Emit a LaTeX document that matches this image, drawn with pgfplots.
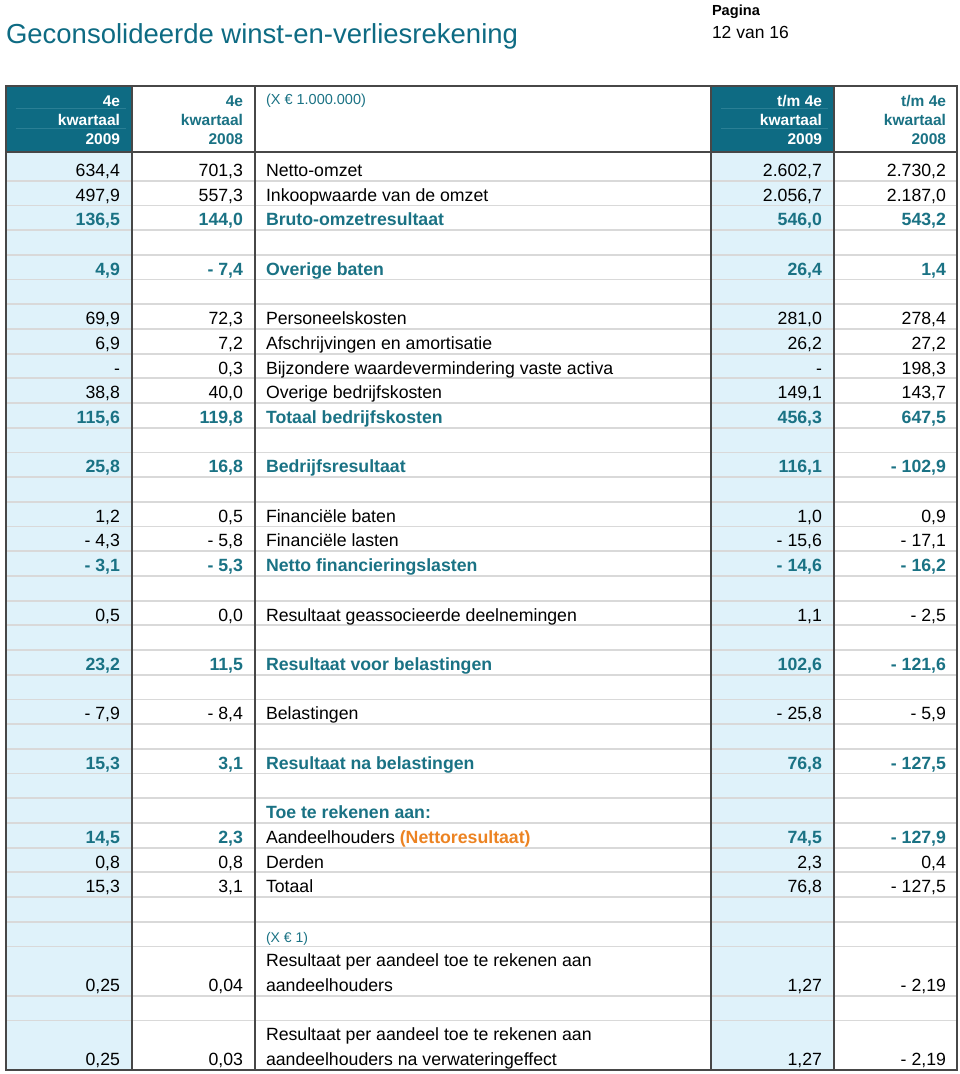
\documentclass[border=0pt]{standalone}
\usepackage{pgfplots}
\pgfplotsset{compat=1.18}
\usepackage{fontspec}
\setmainfont{Liberation Sans}
\definecolor{teal1}{HTML}{0E6B83}
\definecolor{teal2}{HTML}{2A7F95}
\definecolor{tealtxt}{HTML}{1A7284}
\definecolor{lblue}{HTML}{DFF2FA}
\definecolor{orng}{HTML}{EC8322}
\definecolor{gridg}{HTML}{D9D9D9}
\definecolor{bord}{HTML}{474747}
\newcommand\fs{\fontsize{17.7}{20}\selectfont}
\newcommand\hs{\fontsize{15.5}{18}\selectfont\bfseries}
\newcommand\by[1]{156+24.7*(#1+1)-4.3}
% row: k, col1, col2, label, col4, col5
\newcommand\R[6]{%
 \node[anchor=base east,font=\fs] at (axis cs:120,{\by{#1}}) {#2};
 \node[anchor=base east,font=\fs] at (axis cs:243,{\by{#1}}) {#3};
 \node[anchor=base west,font=\fs] at (axis cs:266,{\by{#1}}) {#4};
 \node[anchor=base east,font=\fs] at (axis cs:822,{\by{#1}}) {#5};
 \node[anchor=base east,font=\fs] at (axis cs:946,{\by{#1}}) {#6};
}
\newcommand\B[6]{%
 \node[anchor=base east,font=\fs\bfseries,text=tealtxt] at (axis cs:120,{\by{#1}}) {#2};
 \node[anchor=base east,font=\fs\bfseries,text=tealtxt] at (axis cs:243,{\by{#1}}) {#3};
 \node[anchor=base west,font=\fs\bfseries,text=tealtxt] at (axis cs:266,{\by{#1}}) {#4};
 \node[anchor=base east,font=\fs\bfseries,text=tealtxt] at (axis cs:822,{\by{#1}}) {#5};
 \node[anchor=base east,font=\fs\bfseries,text=tealtxt] at (axis cs:946,{\by{#1}}) {#6};
}
\begin{document}
\begin{tikzpicture}[every node/.style={inner sep=0pt,outer sep=0pt}]
\begin{axis}[width=960pt,height=1074pt,scale only axis,
  xmin=0,xmax=960,ymin=0,ymax=1074,y dir=reverse,hide axis,clip=false]
\path (axis cs:0,0) rectangle (axis cs:960,1074);
% title
\node[anchor=base west,font=\fontsize{27.5}{30}\selectfont,text=teal1] at (axis cs:6,43) {Geconsolideerde winst-en-verliesrekening};
\node[anchor=base west,font=\fontsize{14.6}{16}\selectfont\bfseries] at (axis cs:712,15.5) {Pagina};
\node[anchor=base west,font=\fontsize{17.5}{20}\selectfont] at (axis cs:712,38.5) {12 van 16};
% fills
\fill[teal1] (axis cs:6,86) rectangle (axis cs:132,152);
\fill[teal1] (axis cs:711,86) rectangle (axis cs:834,152);
\fill[lblue] (axis cs:6,152) rectangle (axis cs:132,1070);
\fill[lblue] (axis cs:711,152) rectangle (axis cs:834,1070);
\draw[teal2,line width=1pt] (axis cs:16,108) -- (axis cs:126,108) (axis cs:16,128) -- (axis cs:126,128);
\draw[teal2,line width=1pt] (axis cs:721,108) -- (axis cs:828,108) (axis cs:721,128) -- (axis cs:828,128);
% row lines
\pgfplotsinvokeforeach{1,...,32,34,35}{
  \draw[gridg,line width=1.8pt] (axis cs:6,{156+24.7*#1}) -- (axis cs:957,{156+24.7*#1});
}
% vertical and border lines
\draw[bord,line width=1.5pt] (axis cs:6,86) rectangle (axis cs:957,1070);
\draw[bord,line width=1.5pt] (axis cs:132,86) -- (axis cs:132,1070);
\draw[bord,line width=1.5pt] (axis cs:255,86) -- (axis cs:255,1070);
\draw[bord,line width=1.5pt] (axis cs:711,86) -- (axis cs:711,1070);
\draw[bord,line width=1.5pt] (axis cs:834,86) -- (axis cs:834,1070);
\draw[bord,line width=1.8pt] (axis cs:6,152) -- (axis cs:957,152);
% header
\node[anchor=base east,font=\hs,text=white] at (axis cs:120,106) {4e};
\node[anchor=base east,font=\hs,text=white] at (axis cs:120,125) {kwartaal};
\node[anchor=base east,font=\hs,text=white] at (axis cs:120,144) {2009};
\node[anchor=base east,font=\hs,text=tealtxt] at (axis cs:243,106) {4e};
\node[anchor=base east,font=\hs,text=tealtxt] at (axis cs:243,125) {kwartaal};
\node[anchor=base east,font=\hs,text=tealtxt] at (axis cs:243,144) {2008};
\node[anchor=base west,font=\fontsize{14.5}{16}\selectfont,text=tealtxt] at (axis cs:266,104.5) {(X € 1.000.000)};
\node[anchor=base east,font=\hs,text=white] at (axis cs:822,106) {t/m 4e};
\node[anchor=base east,font=\hs,text=white] at (axis cs:822,125) {kwartaal};
\node[anchor=base east,font=\hs,text=white] at (axis cs:822,144) {2009};
\node[anchor=base east,font=\hs,text=tealtxt] at (axis cs:946,106) {t/m 4e};
\node[anchor=base east,font=\hs,text=tealtxt] at (axis cs:946,125) {kwartaal};
\node[anchor=base east,font=\hs,text=tealtxt] at (axis cs:946,144) {2008};
% body
\R{0}{634,4}{701,3}{Netto-omzet}{2.602,7}{2.730,2}
\R{1}{497,9}{557,3}{Inkoopwaarde van de omzet}{2.056,7}{2.187,0}
\B{2}{136,5}{144,0}{Bruto-omzetresultaat}{546,0}{543,2}
\B{4}{4,9}{- 7,4}{Overige baten}{26,4}{1,4}
\R{6}{69,9}{72,3}{Personeelskosten}{281,0}{278,4}
\R{7}{6,9}{7,2}{Afschrijvingen en amortisatie}{26,2}{27,2}
\R{8}{-}{0,3}{Bijzondere waardevermindering vaste activa}{-}{198,3}
\R{9}{38,8}{40,0}{Overige bedrijfskosten}{149,1}{143,7}
\B{10}{115,6}{119,8}{Totaal bedrijfskosten}{456,3}{647,5}
\B{12}{25,8}{16,8}{Bedrijfsresultaat}{116,1}{- 102,9}
\R{14}{1,2}{0,5}{Financiële baten}{1,0}{0,9}
\R{15}{- 4,3}{- 5,8}{Financiële lasten}{- 15,6}{- 17,1}
\B{16}{- 3,1}{- 5,3}{Netto financieringslasten}{- 14,6}{- 16,2}
\R{18}{0,5}{0,0}{Resultaat geassocieerde deelnemingen}{1,1}{- 2,5}
\B{20}{23,2}{11,5}{Resultaat voor belastingen}{102,6}{- 121,6}
\R{22}{- 7,9}{- 8,4}{Belastingen}{- 25,8}{- 5,9}
\B{24}{15,3}{3,1}{Resultaat na belastingen}{76,8}{- 127,5}
\B{26}{}{}{Toe te rekenen aan:}{}{}
\B{27}{14,5}{2,3}{}{74,5}{- 127,9}
\node[anchor=base west,font=\fs] at (axis cs:266,{\by{27}}) {Aandeelhouders {\bfseries\color{orng}(Nettoresultaat)}};
\R{28}{0,8}{0,8}{Derden}{2,3}{0,4}
\R{29}{15,3}{3,1}{Totaal}{76,8}{- 127,5}
\node[anchor=base west,font=\fontsize{14}{16}\selectfont,text=tealtxt] at (axis cs:266,{\by{31}}) {(X € 1)};
\node[anchor=base west,font=\fs] at (axis cs:266,{\by{32}}) {Resultaat per aandeel toe te rekenen aan};
\R{33}{0,25}{0,04}{aandeelhouders}{1,27}{- 2,19}
\node[anchor=base west,font=\fs] at (axis cs:266,{\by{35}}) {Resultaat per aandeel toe te rekenen aan};
\R{36}{0,25}{0,03}{aandeelhouders na verwateringeffect}{1,27}{- 2,19}
\end{axis}
\end{tikzpicture}
\end{document}
